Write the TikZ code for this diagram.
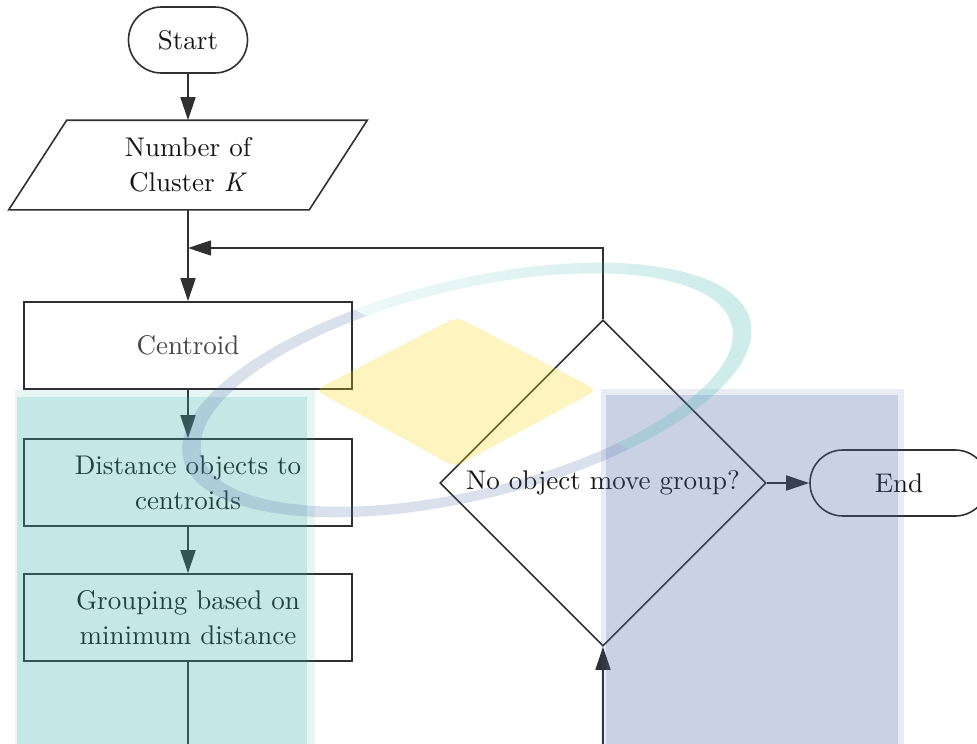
\documentclass[tikz,border=0pt]{standalone}
\usepackage{fontspec}
\setmainfont{lmroman10-regular.otf}[ItalicFont=lmroman10-italic.otf]
\usetikzlibrary{shapes.geometric,arrows.meta,fadings}

\definecolor{ink}{HTML}{303030}
\definecolor{txt}{HTML}{151515}
\definecolor{wmteal}{RGB}{55,178,172}
\definecolor{wmblue}{RGB}{75,102,165}
\definecolor{wmyellow}{RGB}{250,216,30}

\tikzset{
  base/.style={draw=ink, line width=1.6pt, text=txt, inner sep=0pt, align=center,
    font=\fontsize{27pt}{34.8pt}\selectfont},
  terminal/.style={base, rectangle, rounded corners=32.9pt, minimum height=66pt},
  process/.style={base, rectangle, minimum width=328pt, minimum height=87pt},
  decision/.style={base, diamond, aspect=1, minimum width=326pt, minimum height=326pt},
  iotext/.style={base, draw=none, rectangle, minimum width=299pt, minimum height=88pt},
  flow/.style={draw=ink, line width=1.6pt, -{Triangle[length=23pt,width=15pt]}},
  plain/.style={draw=ink, line width=1.6pt},
  ring/.style={even odd rule, shift={(467,390)}, rotate=13.7},
}

\begin{document}
\begin{tikzpicture}[x=1pt,y=-1pt]
\useasboundingbox (0,0) rectangle (977,744);
\begin{scope}
\clip (0,0) rectangle (977,744);

% flowchart nodes
\node[terminal, minimum width=119pt] (start) at (188,40) {Start};
\node[iotext] (input) at (188,165) {Number of\\Cluster \textit{K}};
\draw[plain] ([xshift=29pt]input.north west) -- ([xshift=29pt]input.north east)
  -- ([xshift=-29pt]input.south east) -- ([xshift=-29pt]input.south west) -- cycle;
\node[process, text=ink!90] (centroid) at (188,345.5) {Centroid};
\node[process] (dist) at (188,482.5) {Distance objects to\\centroids};
\node[process] (group) at (188,617.5) {Grouping based on\\minimum distance};
\node[decision] (check) at (603,483) {No object move group?};
\node[terminal, minimum width=178pt] (end) at (899,483) {End};

\coordinate (merge) at (188,248);
\coordinate (gout) at (188,744);
\coordinate (cin) at (603,744);

% connectors
\draw[flow] (start.south) -- (input.north);
\draw[flow] (input.south) -- (centroid.north);
\draw[flow] (check.north) |- (merge);
\draw[flow] (centroid.south) -- (dist.north);
\draw[flow] (dist.south) -- (group.north);
\draw[plain] (group.south) -- (gout);
\draw[flow] (cin) -- (check.south);
\draw[flow] (check.east) -- (end.west);

% translucent emblem laid over the chart
\fill[wmteal, opacity=0.12] (15,390) rectangle (315,744);
\fill[wmteal, opacity=0.2] (17,397) rectangle (307,744);
\fill[wmblue, opacity=0.12] (601,389) rectangle (904,744);
\fill[wmblue, opacity=0.2] (606,395) rectangle (898,744);
\fill[wmyellow, opacity=0.28, rounded corners=8pt]
  (315,390) -- (457,317) -- (597,390) -- (455,467) -- cycle;

\begin{scope}
  \clip (0,129.4) -- (1100,689.4) -- (1100,-100) -- (0,-100) -- cycle;
  \fill[wmteal, opacity=0.26, ring, path fading=west]
    (0,0) ellipse [x radius=292pt, y radius=110pt]
    (0,0) ellipse [x radius=273pt, y radius=100pt];
\end{scope}
\begin{scope}
  \clip (0,129.4) -- (1100,689.4) -- (1100,900) -- (0,900) -- cycle;
  \fill[wmblue, opacity=0.2, ring]
    (0,0) ellipse [x radius=292pt, y radius=110pt]
    (0,0) ellipse [x radius=273pt, y radius=100pt];
\end{scope}
\end{scope}
\end{tikzpicture}
\end{document}
